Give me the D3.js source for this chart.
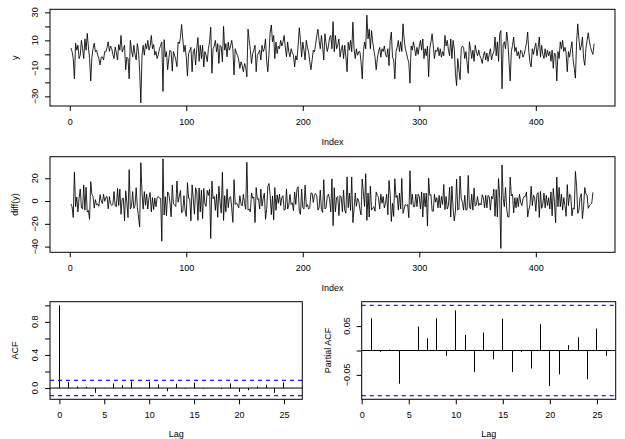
<!DOCTYPE html>
<html><head><meta charset="utf-8">
<script src="https://cdn.jsdelivr.net/npm/d3@7"></script>
<style>
body{margin:0;background:#fff}
text{font-family:"Liberation Sans",Arial,sans-serif;font-size:9px;fill:#000}
</style>
</head><body>
<svg id="c" width="625" height="439"></svg>
<script>
// ---- data ----
const y = [
 4.6, 2, -3, -17.5, 8, 3, 6.5, -3, -0.6, 10,
 4, -3, 11, 3, 15, 5.3, -3, -19, -2, 4,
 8, 1.8, 3, -0.6, -3, -7.6, -2, -1.8, -4, 2,
 1.8, 5, 9, 2.2, 6, 4, 0, -3, 5.3, 1,
 -4, 7, 3, 13.5, 1.8, 4, 6.5, -11, -2, -3,
 -17.5, 10, 3, -1.8, 6.5, 0, -4, 7.7, 2, -12,
 -34.7, -1, 6.5, -0.6, 7.7, 4, 10, 3, 6, 13.5,
 4, 7, -0.6, 2, -3, 0, 4, 6.5, 8.8, -26.5,
 10.5, -1.8, 2, -11, -3, 3, 1.8, -12, 2, -0.6,
 -4, -8.8, 8.8, 7.7, 12, 21.3, 11, 1.8, 6.5, -2,
 -15.5, 0.6, 3, 5, -12.4, 1.8, 4, -7.6, 4, 12,
 -5, 6.5, -3, 6.5, -9, 2, -0.6, -5.3, 4, 9,
 19.4, -13.5, 4, 6, 10, 1.8, 7.7, -6.5, 6.5, 5.3,
 -5.3, 20, 3, 7.7, -1.8, 8.8, 3, 6, 10, 4,
 -14.7, 4, 1, -0.6, -4, -10, -5.3, -8, -12.4, -6.5,
 -8.8, -16, 18, 10, 3, -6.5, 0.6, 3, 6.5, -12.4,
 -0.6, 1, 3, -4, 6.5, 2, 4, 11, -5, -12.4,
 0.6, 16, 21, 9, 13.5, -3, 8.8, 0.6, 6, 4,
 10, 6, 8.8, 13.5, 5.3, -1.8, 8.8, 1.8, -1.8, 4,
 1, -0.6, -9, -1, -4, 6.5, 19, 10, -1.8, 8.8,
 3, -4, 10, 5, 1.8, -5.3, -11, -4, 3, 1.8,
 7, 13.5, 18, 10, 4, 13.5, 6, -4, 14.7, 7.7,
 2, 6, 12, 13.5, 4, 23.4, 1.8, 13.5, 4, 7,
 11, -1.8, 3, 6.5, -3, 6.5, -1.8, -12.4, 8.8, 3,
 10, 1.8, 23, 4, -3, 4, -0.6, 1.8, 2, -5.3,
 -17.5, 1.8, 8.8, 4, 28, 11, 18, 4, 17, 9,
 3, -2, -11, -3, 2, 5, -2, 4, 2, 6,
 0, -2, 4, -8, 10, 16, -2, -4, -17.5, 2,
 5, 10, 2, 9, 2, 21.8, 11, 4, 1, -3,
 -6, -20.6, 6, 3, 9, 4, -1, 5, 0, 6,
 10, 3, 11, -3, 4, -1, 6, -16, 4, 9,
 14.7, 6, -3, 3, 2, 5, -1, 4, -2, 2,
 -1, 13.5, 6, 10, 3, -1, 11, -3, 10, 4,
 -13.5, -22.3, -3, -11, -18, 4, 6, 5, -3, 2,
 -6, -13.5, 9, 4, -3, 3, -5, 6.5, 2, -1,
 3, -1, -3, -6.5, -1, 2, -4, 1, -5, 0,
 4, -4, 0, 2, 12.4, -1, 9, -5, 14.7, 17,
 -24.6, 7, 9, 4, 16, 9, -5, -19, 2, 6.5,
 12.4, 2, 5, -1, 2, -3, 3, 2, -2, 0,
 4, 8, 16, 2, -6, -9, 4, 0, 5, 8,
 -1, 5, 12.4, -2, 6.5, 0, -3, 4, -2, 3,
 -1, 2, -5, 3, -10, 1, 0, -19, 2, -3,
 9, 4, 10, 2, 5, 1, -12.4, 2, -2, 4,
 9, -4, -10, -17, 9, 21.8, 11, 3, 6, 12.4,
 -3, -7.8, 4, 10, 15.4, 9, 5, 2, 0, 7.6
];
const dy = d3.pairs(y, (a, b) => b - a); // diff(y)

const acfLag = [0,1,2,3,4,5,6,7,8,9,10,11,12,13,14,15,16,17,18,19,20,21,22,23,24,25,26];
const acfVal = [1, 0.072, 0.02, 0.016, -0.058, -0.004, 0.056, 0.036, 0.08, -0.005, 0.076, 0.044, -0.038,
                0.052, -0.008, 0.064, -0.008, 0.002, -0.012, 0.056, -0.046, -0.026, 0.02, 0.04, -0.058, 0.068, 0.003];
const pacfLag = [1,2,3,4,5,6,7,8,9,10,11,12,13,14,15,16,17,18,19,20,21,22,23,24,25,26];
const pacfVal = [0.066, -0.003, 0.002, -0.068, 0.0, 0.049, 0.025, 0.066, -0.011, 0.082, 0.032, -0.044, 0.037,
                 -0.018, 0.065, -0.044, -0.003, -0.037, 0.054, -0.073, -0.049, 0.011, 0.027, -0.059, 0.045, -0.011];
const ciLimit = 0.0925;

const indexTicks = [0, 100, 200, 300, 400];
const yTicks = [-30, -20, -10, 0, 10, 20, 30];
const yTickLabels = [-30, -10, 10, 30];
const dTicks = [-40, -20, 0, 20];
const acfYTicks = [0, 0.2, 0.4, 0.6, 0.8, 1.0];
const acfYLabels = [0, 0.4, 0.8];
const lagTicks = [0, 5, 10, 15, 20, 25];
const pacfYTicks = [-0.05, 0, 0.05];
const pacfYLabels = [-0.05, 0.05];

// ---- drawing ----
const svg = d3.select("#c");
const TICK = 5;
const snap = v => Math.round(v - 0.5) + 0.5;

function panel(o) {
  const x = d3.scaleLinear().domain(o.xdom).range([o.x0, o.x1]);
  const yS = d3.scaleLinear().domain(o.ydom).range([o.y1, o.y0]);
  const g = svg.append("g");
  const xa = g.append("g").attr("transform", `translate(0,${o.y1})`)
    .call(d3.axisBottom(x).tickValues(o.xticks).tickSize(TICK).tickSizeOuter(0).tickPadding(7.5).tickFormat(o.xfmt || d3.format("d")));
  xa.select(".domain").remove();
  xa.selectAll("line").attr("stroke", "#000");
  xa.selectAll("text").style("font-size", "9px").attr("fill", "#000");
  const ya = g.append("g").attr("transform", `translate(${o.x0},0)`)
    .call(d3.axisLeft(yS).tickValues(o.yticks).tickSize(TICK).tickSizeOuter(0).tickFormat(""));
  ya.select(".domain").remove();
  ya.selectAll("line").attr("stroke", "#000");
  g.selectAll("text.ylab").data(o.ylabels).join("text").attr("class", "ylab")
    .attr("transform", d => `translate(${o.ylx},${yS(d)}) rotate(-90)`)
    .attr("text-anchor", "middle").attr("dominant-baseline", "central")
    .text(o.yfmt);
  g.append("text").attr("x", (o.x0 + o.x1) / 2).attr("y", o.y1 + o.xtitleOff)
    .attr("text-anchor", "middle").attr("dominant-baseline", "central").text(o.xtitle);
  g.append("text").attr("transform", `translate(${o.ytx},${(o.y0 + o.y1) / 2}) rotate(-90)`)
    .attr("text-anchor", "middle").attr("dominant-baseline", "central").text(o.ytitle);
  return {x, y: yS, g, o};
}

function box(p) {
  p.g.append("rect").attr("x", p.o.x0).attr("y", p.o.y0)
    .attr("width", p.o.x1 - p.o.x0).attr("height", p.o.y1 - p.o.y0)
    .attr("fill", "none").attr("stroke", "#000").attr("stroke-width", 1);
}

function hline(p, v, color, width, dash) {
  const yy = p.y(v);
  const l = p.g.append("line").attr("x1", p.o.x0).attr("x2", p.o.x1).attr("y1", yy).attr("y2", yy)
    .attr("stroke", color).attr("stroke-width", width);
  if (dash) l.attr("stroke-dasharray", dash);
}

// Panel 1: y
const p1 = panel({x0: 50, x1: 615, y0: 9.3, y1: 106, xdom: [-16.96, 467.96], ydom: [-36.9, 32.2],
  xticks: indexTicks, yticks: yTicks, ylabels: yTickLabels, yfmt: d => d3.format("d")(d),
  ylx: 35, ytx: 15, xtitle: "Index", ytitle: "y", xtitleOff: 35.5});
p1.g.append("path").datum(y)
  .attr("d", d3.line().x((d, i) => p1.x(i + 1)).y(d => p1.y(d)))
  .attr("fill", "none").attr("stroke", "#000").attr("stroke-width", 0.85);
box(p1);

// Panel 2: diff(y)
const p2 = panel({x0: 50, x1: 615, y0: 156.7, y1: 252.3, xdom: [-16.96, 467.96], ydom: [-45, 38.9],
  xticks: indexTicks, yticks: dTicks, ylabels: dTicks, yfmt: d => d3.format("d")(d),
  ylx: 35, ytx: 15, xtitle: "Index", ytitle: "diff(y)", xtitleOff: 36});
p2.g.append("path").datum(dy)
  .attr("d", d3.line().x((d, i) => p2.x(i + 1)).y(d => p2.y(d)))
  .attr("fill", "none").attr("stroke", "#000").attr("stroke-width", 0.85);
box(p2);

// Panel 3: ACF
const p3 = panel({x0: 50, x1: 302.3, y0: 301.7, y1: 399.3, xdom: [-1.04, 27.04], ydom: [-0.136, 1.0437],
  xticks: lagTicks, yticks: acfYTicks, ylabels: acfYLabels, yfmt: d => d3.format(".1f")(d),
  ylx: 35, ytx: 15, xtitle: "Lag", ytitle: "ACF", xtitleOff: 35});
p3.g.selectAll("line.bar").data(acfLag).join("line").attr("class", "bar")
  .attr("x1", d => snap(p3.x(d))).attr("x2", d => snap(p3.x(d)))
  .attr("y1", p3.y(0)).attr("y2", (d, i) => p3.y(acfVal[i]))
  .attr("stroke", "#000").attr("stroke-width", 1);
hline(p3, 0, "#000", 1);
hline(p3, ciLimit, "#1a1aff", 1.3, "4,4");
hline(p3, -ciLimit, "#1a1aff", 1.3, "4,4");
box(p3);

// Panel 4: PACF
const p4 = panel({x0: 361.7, x1: 615.7, y0: 301.7, y1: 399.3, xdom: [0, 27], ydom: [-0.1, 0.1],
  xticks: lagTicks, yticks: pacfYTicks, ylabels: pacfYLabels, yfmt: d => d3.format(".2f")(d),
  ylx: 347.3, ytx: 328.3, xtitle: "Lag", ytitle: "Partial ACF", xtitleOff: 35});
p4.g.selectAll("line.bar").data(pacfLag).join("line").attr("class", "bar")
  .attr("x1", d => snap(p4.x(d))).attr("x2", d => snap(p4.x(d)))
  .attr("y1", p4.y(0)).attr("y2", (d, i) => p4.y(pacfVal[i]))
  .attr("stroke", "#000").attr("stroke-width", 1);
hline(p4, 0, "#000", 1);
hline(p4, ciLimit, "#1a1aff", 1.3, "4,4");
hline(p4, -ciLimit, "#1a1aff", 1.3, "4,4");
box(p4);
</script>
</body></html>
